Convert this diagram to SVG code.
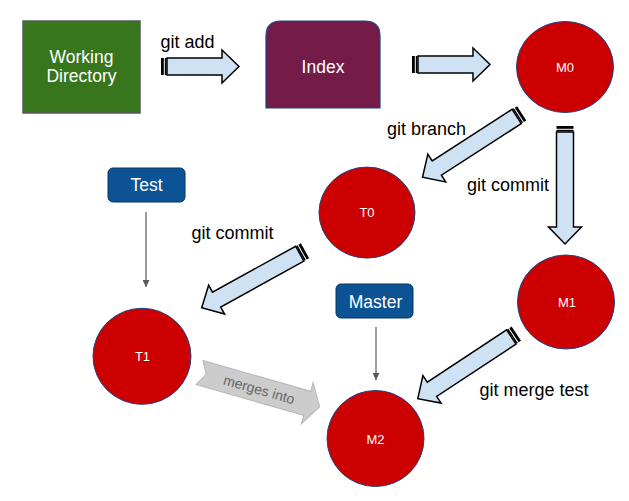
<svg xmlns="http://www.w3.org/2000/svg" width="629" height="501" viewBox="0 0 629 501">
<style>
  .lbl{font-family:"Liberation Sans",Arial,sans-serif;font-size:18px;fill:#000}
  .wt{font-family:"Liberation Sans",Arial,sans-serif;font-size:17.5px;fill:#fff;text-anchor:middle}
  .ct{font-family:"Liberation Sans",Arial,sans-serif;font-size:13px;fill:#fff;text-anchor:middle}
  .commit{fill:#cc0000;stroke:#1c4587;stroke-width:1}
  .branch{fill:#0b5394;stroke:#073763;stroke-width:1}
  .big{fill:#cfe2f3;stroke:#000;stroke-width:1.5;stroke-linejoin:miter}
  .stripe{fill:#000}
  .ptr{stroke:#595959;stroke-width:1.2;fill:none}
</style>
<defs>
  <marker id="ah" viewBox="0 0 10 10" refX="10" refY="5" markerWidth="7" markerHeight="7" markerUnits="userSpaceOnUse" orient="auto">
    <path d="M0,0 L10,5 L0,10 Z" fill="#595959"/>
  </marker>
  <g id="arrowShort">
    <rect class="stripe" x="0" y="-8.5" width="2.8" height="17"/>
    <rect class="stripe" x="3.8" y="-8.5" width="1.6" height="17"/>
    <path class="big" d="M6,-8.5 H61 V-16.5 L78,0 L61,16.5 V8.5 H6 Z"/>
  </g>
  <g id="arrowLong">
    <rect class="stripe" x="0" y="-8.5" width="2.8" height="17"/>
    <rect class="stripe" x="3.8" y="-8.5" width="1.6" height="17"/>
    <path class="big" d="M6,-8.5 H101 V-16.5 L118,0 L101,16.5 V8.5 H6 Z"/>
  </g>
</defs>
<rect width="629" height="501" fill="#fff"/>

<g id="connectors">
  <use href="#arrowShort" transform="translate(161,66.5)"/>
  <use href="#arrowShort" transform="translate(412,64.5)"/>
  <use href="#arrowLong" transform="translate(521.7,113.3) rotate(147.2)"/>
  <use href="#arrowLong" transform="translate(565,126) rotate(90)"/>
  <use href="#arrowLong" transform="translate(305,250.8) rotate(151.1)"/>
  <use href="#arrowLong" transform="translate(516.3,333.7) rotate(146.6)"/>
  <line class="ptr" x1="146" y1="212" x2="146" y2="287" marker-end="url(#ah)"/>
  <line class="ptr" x1="376" y1="327" x2="376" y2="380" marker-end="url(#ah)"/>
  <g id="merges-into" transform="translate(199.5,372.5) rotate(16)">
    <path d="M0,-12.5 L112,-12.5 L112,-21.5 L125,0 L112,21.5 L112,12.5 L0,12.5 L7,0 Z" fill="#cccccc" stroke="#b7b7b7" stroke-width="1"/>
    <text x="62" y="4.8" font-family="Liberation Sans, Arial, sans-serif" font-size="14" fill="#666666" text-anchor="middle">merges into</text>
  </g>
  <text class="lbl" x="160.5" y="47.5">git add</text>
  <text class="lbl" x="387" y="134.5">git branch</text>
  <text class="lbl" x="467" y="191">git commit</text>
  <text class="lbl" x="191.5" y="239">git commit</text>
  <text class="lbl" x="479.5" y="396">git merge test</text>
</g>

<g id="working-directory">
  <rect x="23" y="21" width="117" height="92" fill="#38761d" stroke="#595959" stroke-width="1.5"/>
  <text class="wt" x="81.5" y="62.5">Working</text>
  <text class="wt" x="81.5" y="82">Directory</text>
</g>

<g id="index">
  <path d="M266,108 V36 Q266,21 281,21 H365 Q380,21 380,36 V108 Z" fill="#741b47" stroke="#1c4587" stroke-width="1.2"/>
  <text class="wt" x="323" y="73.3">Index</text>
</g>

<g id="M0">
  <ellipse class="commit" cx="565" cy="67" rx="48.5" ry="45.5"/>
  <text class="ct" x="565" y="71.7">M0</text>
</g>

<g id="T0">
  <ellipse class="commit" cx="367" cy="212.6" rx="48" ry="45.5"/>
  <text class="ct" x="367" y="217.3">T0</text>
</g>

<g id="M1">
  <ellipse class="commit" cx="566" cy="302" rx="48.5" ry="47"/>
  <text class="ct" x="567" y="306.5">M1</text>
</g>

<g id="T1">
  <ellipse class="commit" cx="142" cy="356.3" rx="49" ry="48"/>
  <text class="ct" x="142.5" y="361">T1</text>
</g>

<g id="M2">
  <ellipse class="commit" cx="375.5" cy="438.5" rx="48.5" ry="48"/>
  <text class="ct" x="375.5" y="443.5">M2</text>
</g>

<g id="Test">
  <rect class="branch" x="108" y="168" width="77" height="34" rx="5"/>
  <text class="wt" x="146.5" y="190.7">Test</text>
</g>

<g id="Master">
  <rect class="branch" x="336" y="284" width="77" height="34" rx="5"/>
  <text class="wt" x="375.5" y="307.5">Master</text>
</g>
</svg>
